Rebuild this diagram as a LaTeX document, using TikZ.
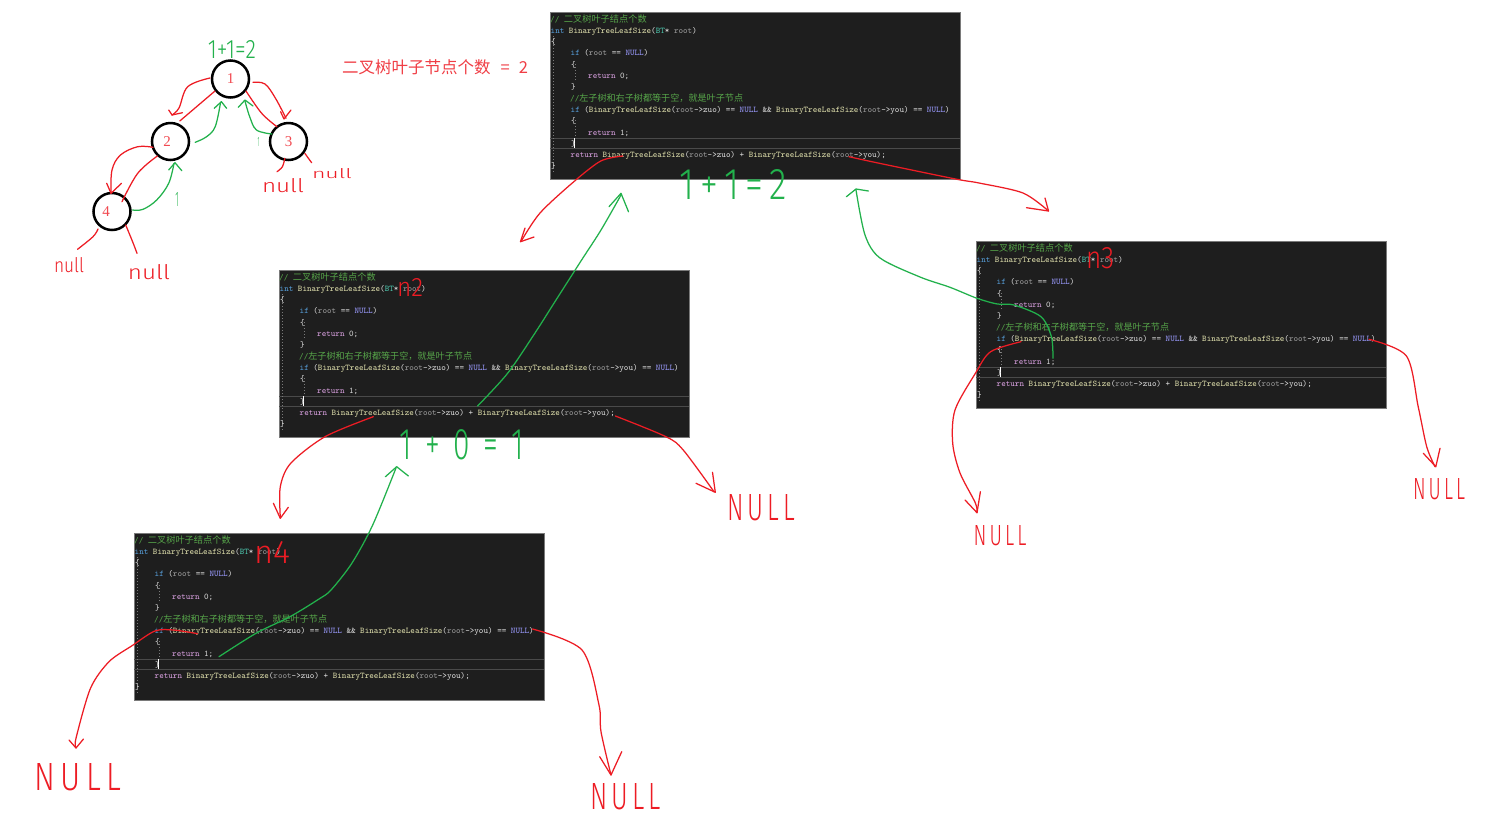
\documentclass[tikz,border=0pt]{standalone}
\usepackage{fontspec}
\newfontfamily\cjk{Noto Sans CJK SC}
\newfontfamily\handfont{Fira Sans Light}
\setmainfont{Liberation Serif}
\definecolor{penred}{HTML}{ED1C24}
\definecolor{pengreen}{HTML}{22B14C}
\definecolor{panelbg}{HTML}{1E1E1E}
\definecolor{cmt}{HTML}{57A64A}
\definecolor{kw}{HTML}{569CD6}
\definecolor{ctl}{HTML}{D8A0DF}
\definecolor{fn}{HTML}{DCDCAA}
\definecolor{par}{HTML}{9A9A9A}
\definecolor{nul}{HTML}{9B9BFF}
\definecolor{typ}{HTML}{4EC9B0}
\definecolor{txt}{HTML}{DCDCDC}
\definecolor{rowline}{HTML}{4A4A4A}
\definecolor{guide}{HTML}{7A7A7A}
\newcommand{\K}[1]{\textcolor{kw}{#1}}
\newcommand{\C}[1]{\textcolor{ctl}{#1}}
\newcommand{\F}{\textcolor{fn}{BinaryTreeLeafSize}}
\newcommand{\Pm}[1]{\textcolor{par}{#1}}
\newcommand{\Nl}{\textcolor{nul}{NULL}}
\newcommand{\handtext}[3]{\resizebox{#1pt}{#2pt}{\handfont #3}}
\tikzset{
  x=1pt,y=-1pt,
  redpen/.style={draw=penred,line width=1.25pt,line cap=round,line join=round},
  greenpen/.style={draw=pengreen,line width=1.25pt,line cap=round,line join=round},
  panel/.style={anchor=north west,fill=panelbg,draw=guide,line width=.4pt,minimum width=410pt,minimum height=167pt,inner sep=0pt},
  codeline/.style={anchor=base west,inner sep=0pt,font=\fontsize{8.7}{10}\ttfamily,text=txt},
  treenode/.style={circle,draw=black,line width=2.5pt,minimum size=37pt,inner sep=0pt,fill=white,text=penred!80!white,font=\fontsize{15}{15}\selectfont},
  redhand/.style={inner sep=0pt,text=penred},
  greenhand/.style={inner sep=0pt,text=pengreen},
  guideline/.style={draw=guide,line width=.5pt,dash pattern=on 1pt off 2pt}
}
\newcommand{\codepanel}[3]{%
  \node[panel] (#1) at (#2,#3) {};
  \begin{scope}[shift={(#2,#3)}]
    \draw[rowline,line width=.8pt] (0,126) -- (410,126) (0,136) -- (410,136);
    \draw[guideline] (3,24) -- (3,160) (25,52) -- (25,68) (25,108) -- (25,124);
    \draw[white,line width=.6pt] (24.5,126) -- (24.5,136);
    \node[codeline] (#1l0) at (0,10) {\textcolor{cmt}{// {\fontsize{9.2}{10}\cjk 二叉树叶子结点个数}}};
    \node[codeline] (#1l1) at (0.5,21.3) {\K{int} \F(\textcolor{typ}{BT}* \Pm{root})};
    \node[codeline] (#1l2) at (1,32.6) {\{};
    \node[codeline] (#1l3) at (20.5,43.9) {\K{if} (\Pm{root} == \Nl)};
    \node[codeline] (#1l4) at (21,55.2) {\{};
    \node[codeline] (#1l5) at (38,66.5) {\C{return} 0;};
    \node[codeline] (#1l6) at (21,77.8) {\}};
    \node[codeline] (#1l7) at (20,89.1) {\textcolor{cmt}{//{\fontsize{9.1}{10}\cjk 左子树和右子树都等于空，就是叶子节点}}};
    \node[codeline] (#1l8) at (20.5,100.4) {\K{if} (\F(\Pm{root}->zuo) == \Nl\ \&\& \F(\Pm{root}->you) == \Nl)};
    \node[codeline] (#1l9) at (21,111.7) {\{};
    \node[codeline] (#1l10) at (38,123) {\C{return} 1;};
    \node[codeline] (#1l11) at (21,134.3) {\}};
    \node[codeline] (#1l12) at (20.5,145.6) {\C{return} \F(\Pm{root}->zuo) + \F(\Pm{root}->you);};
    \node[codeline] (#1l13) at (1,156.9) {\}};
  \end{scope}}
\begin{document}
\begin{tikzpicture}
\useasboundingbox[fill=white] (0,0) rectangle (1486,823);

% code panels
\codepanel{pA}{550}{12}
\codepanel{pB}{279}{270}
\codepanel{pC}{976}{241}
\codepanel{pD}{134}{533}

% tree nodes
\node[treenode] (n1) at (230.5,79) {1};
\node[treenode] (n2) at (170.5,141.5) {\kern-7pt 2};
\node[treenode] (n3) at (288.5,141.5) {3};
\node[treenode] (n4) at (112,211.5) {\kern-12pt 4};

% tree: red descent strokes
\draw[redpen] plot[smooth,tension=.6] coordinates {(210,78)(187.7,86.7)(179,108)(172,115)};
\draw[redpen] (168.7,110) -- (172,115) -- (182.5,112.7);
\draw[redpen] (215,91) -- (179.8,121);
\draw[redpen] plot[smooth,tension=.6] coordinates {(253,82.3)(265,84)(275.5,98.3)(286,118.3)};
\draw[redpen] (280.6,111.7) -- (284,119) -- (291,110);
\draw[redpen] plot[smooth,tension=.6] coordinates {(246,91)(261.7,113.3)(277,126.7)};
\draw[redpen] plot[smooth,tension=.6] coordinates {(153,147.3)(137.7,146.7)(120.5,155)(112,170)(111,193.3)};
\draw[redpen] (106.7,183.3) -- (111,193.3) -- (121.5,183.3);
\draw[redpen] plot[smooth,tension=.6] coordinates {(157.4,156)(137.7,173.3)(122,201.7)};
\draw[redpen] plot[smooth,tension=.6] coordinates {(284.8,158.3)(282.4,166.7)(277,171.7)};
\draw[redpen] (304.8,153.3) -- (311.6,162.7);
\draw[redpen] plot[smooth,tension=.6] coordinates {(98,229)(93,236.7)(77.5,249.3)};
\draw[redpen] plot[smooth,tension=.6] coordinates {(125.7,225)(132.6,241.7)(137,253.3)};

% tree: green return strokes
\draw[greenpen] plot[smooth,tension=.6] coordinates {(132.6,210)(143,209.3)(156.7,200)(168.7,183.3)(174,163.3)};
\draw[greenpen] (168.7,170) -- (175,162.7) -- (181.8,170.7);
\draw[greenpen] plot[smooth,tension=.6] coordinates {(195.2,142.3)(206.6,136.7)(215.2,126.7)(220.4,103.3)};
\draw[greenpen] (214.2,108.3) -- (221.4,101.7) -- (226.6,108.3);
\draw[greenpen] plot[smooth,tension=.6] coordinates {(272,134)(256.5,130)(249.7,116.7)(245,101)};
\draw[greenpen] (238.3,107.3) -- (245,100) -- (253,106);

% tree labels
\node[greenhand] (sumtree) at (232,49) {\handtext{48}{18}{1+1=2}};
\node[greenhand] (one3) at (258.5,142) {\handtext{2}{9}{1}};
\node[greenhand] (one4) at (177,199) {\handtext{3.5}{14}{1}};
\node[redhand] (nl1) at (69,265) {\handtext{30}{15}{null}};
\node[redhand] (nl2) at (149,272) {\handtext{42}{15}{null}};
\node[redhand] (nl3) at (283,186) {\handtext{42}{14}{null}};
\node[redhand] (nl4) at (332,174) {\handtext{40}{10}{null}};
\node[inner sep=0pt,text=penred!85!white,font=\fontsize{16.5}{18}\cjk,anchor=west] (title) at (342,67.5) {二叉树叶子节点个数\hspace{10pt}=\hspace{9pt}2};

% panel A strokes
\draw[redpen] plot[smooth,tension=.5] coordinates {(622.8,156)(600.8,161)(573.8,181.7)(540,213)(521,241.5)};
\draw[redpen] (525,228) -- (520.5,241.7) -- (534,237);
\draw[redpen] plot[smooth,tension=.5] coordinates {(849,156.7)(878,163)(955.5,179)(979,183)(1023,193)(1048.5,211)};
\draw[redpen] (1045,198) -- (1048.5,211) -- (1026.5,207.7);
\node[greenhand] (sumA) at (733.5,184.5) {\handtext{107}{30}{1\,+\,1\,=\,2}};

% panel B strokes
\draw[greenpen] plot[smooth,tension=.5] coordinates {(477.6,406)(507.6,373.3)(535,333)(556,300)(581.6,260)(601,230)(621,195)};
\draw[greenpen] (609,206.7) -- (621,193.3) -- (628.5,211.7);
\draw[redpen] plot[smooth,tension=.5] coordinates {(373.3,416.7)(325,436.7)(290.7,463.3)(280.3,486.7)(280.3,517.3)};
\draw[redpen] (273.4,503.3) -- (280.3,518.3) -- (288.3,507.3);
\draw[redpen] plot[smooth,tension=.5] coordinates {(615.4,416)(666,436.7)(683.2,450)(714,491.7)};
\draw[redpen] (696,483.3) -- (715.3,492.3) -- (712.5,472.3);
\node[greenhand] (sumB) at (462,445) {\handtext{124}{30}{1\;\,+\;\,0\;\,=\;\,1}};
\node[redhand] (nullB) at (761,508) {\handtext{68}{26}{N\,U\,L\,L}};
\node[redhand] (nB) at (410,287.5) {\handtext{26}{18}{n2}};

% panel C strokes
\draw[greenpen] plot[smooth,tension=.5] coordinates {(1053,358.3)(1051.4,336.7)(1041,316.7)(1014,305)(997.3,304)(977,298.3)(950,287.3)(920,277)(880,258)(865,235)(856,190)};
\draw[greenpen] (846.4,196.7) -- (856,189) -- (868.4,191);
\draw[redpen] plot[smooth,tension=.5] coordinates {(1021,341.7)(990.6,351.7)(975.4,373.3)(955,410)(952.7,443.3)(960,473)(975.4,503)(977,512.7)};
\draw[redpen] (965,500) -- (977,512.7) -- (980.4,491.7);
\draw[redpen] plot[smooth,tension=.5] coordinates {(1369,339.3)(1406.4,356)(1418.2,406.7)(1426.7,446.7)(1435,466.7)};
\draw[redpen] (1423.3,453.3) -- (1435.8,466.7) -- (1440,448.3);
\node[redhand] (nullCl) at (1000,536) {\handtext{53}{20}{N\,U\,L\,L}};
\node[redhand] (nullCr) at (1439,489) {\handtext{52}{21}{N\,U\,L\,L}};
\node[redhand] (nC) at (1100,258) {\handtext{28}{21}{n3}};

% panel D strokes
\draw[greenpen] plot[smooth,tension=.5] coordinates {(219,656.7)(256.5,633)(290,616.7)(319,599)(331,590)(352,563)(372.7,525)(396,468)};
\draw[greenpen] (385.4,476.7) -- (396.7,466.7) -- (408.4,476);
\draw[redpen] plot[smooth,tension=.5] coordinates {(197.6,633.7)(173.5,630)(154.9,631)(132,645.7)(109,661.7)(90.5,688.3)(76,738.3)(76,747.7)};
\draw[redpen] (69,740) -- (76,748) -- (83.5,739);
\draw[redpen] plot[smooth,tension=.5] coordinates {(532.5,629)(582,650)(599,705)(601,731.7)(611,775)};
\draw[redpen] (599.7,756.7) -- (611,775) -- (621.7,751.7);
\node[redhand] (nullDl) at (78,777) {\handtext{86}{27}{N\,U\,L\,L}};
\node[redhand] (nullDr) at (625.5,796.5) {\handtext{71}{26}{N\,U\,L\,L}};
\node[redhand] (nD) at (272,552) {\handtext{36}{22}{n4}};
\end{tikzpicture}
\end{document}
